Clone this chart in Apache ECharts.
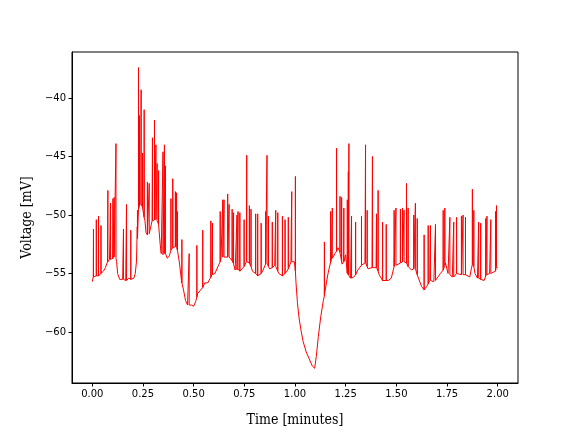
<!DOCTYPE html>
<html>
<head>
<meta charset="utf-8">
<script src="https://cdn.jsdelivr.net/npm/echarts@6/dist/echarts.min.js"></script>
<style>html,body{margin:0;padding:0;background:#fff}#c{width:576px;height:432px}</style>
</head>
<body>
<div id="c"></div>
<script>
// Baseline trace: [time (min), voltage (mV)]
var baseline = [
[0.000,-55.7],[0.005,-55.3],[0.015,-55.2],[0.030,-55.2],[0.045,-55.0],[0.055,-54.8],[0.065,-54.5],
[0.075,-54.0],[0.085,-53.8],[0.095,-53.8],[0.105,-53.6],[0.112,-53.5],[0.120,-54.0],[0.125,-55.0],
[0.135,-55.5],[0.150,-55.5],[0.165,-55.6],[0.180,-55.4],[0.195,-55.6],[0.205,-55.4],[0.212,-55.0],
[0.218,-54.0],[0.222,-51.0],[0.228,-49.5],[0.240,-49.0],[0.250,-49.5],[0.260,-50.5],[0.265,-51.5],
[0.275,-51.7],[0.285,-51.5],[0.295,-50.5],[0.310,-50.4],[0.325,-50.6],[0.335,-52.5],[0.340,-53.3],
[0.350,-53.4],[0.360,-53.3],[0.370,-53.7],[0.380,-53.5],[0.390,-52.9],[0.405,-52.7],[0.418,-52.9],
[0.430,-54.1],[0.440,-55.6],[0.450,-56.4],[0.460,-57.3],[0.470,-57.7],[0.490,-57.7],[0.500,-57.8],
[0.510,-57.4],[0.520,-56.7],[0.535,-56.4],[0.555,-55.8],[0.570,-55.8],[0.590,-55.1],[0.605,-55.0],
[0.620,-54.4],[0.635,-53.7],[0.650,-53.6],[0.675,-53.6],[0.695,-54.1],[0.705,-54.7],[0.715,-54.7],
[0.720,-54.6],[0.735,-54.9],[0.760,-54.0],[0.775,-54.1],[0.790,-54.8],[0.810,-55.0],[0.820,-55.3],
[0.840,-54.8],[0.860,-54.1],[0.875,-54.6],[0.900,-54.3],[0.920,-55.0],[0.940,-55.2],[0.960,-54.8],
[0.980,-54.0],[0.997,-54.0],[1.000,-54.5],[1.005,-55.8],[1.012,-57.5],[1.020,-58.8],[1.030,-59.9],
[1.040,-60.8],[1.055,-61.7],[1.070,-62.3],[1.085,-62.9],[1.097,-63.1],[1.105,-62.1],[1.115,-60.4],
[1.127,-58.7],[1.140,-57.3],[1.147,-56.6],[1.163,-55.0],[1.180,-53.8],[1.197,-53.3],[1.213,-52.8],
[1.222,-53.2],[1.232,-54.2],[1.240,-54.0],[1.250,-53.4],[1.258,-55.0],[1.274,-55.4],[1.290,-55.3],
[1.310,-54.7],[1.330,-54.3],[1.345,-54.1],[1.360,-54.6],[1.380,-54.5],[1.400,-54.5],[1.415,-55.1],
[1.435,-55.6],[1.460,-55.6],[1.475,-55.4],[1.490,-54.3],[1.510,-54.2],[1.525,-54.0],[1.545,-54.1],
[1.560,-54.4],[1.575,-54.7],[1.595,-54.6],[1.607,-55.3],[1.624,-56.1],[1.637,-56.4],[1.650,-56.1],
[1.665,-55.6],[1.685,-55.7],[1.700,-55.5],[1.717,-55.0],[1.734,-54.6],[1.742,-54.1],[1.755,-55.0],
[1.776,-55.3],[1.800,-55.0],[1.830,-55.1],[1.850,-55.0],[1.862,-55.3],[1.870,-54.6],[1.878,-54.1],
[1.888,-55.0],[1.900,-55.4],[1.920,-55.5],[1.933,-55.6],[1.945,-55.1],[1.960,-55.0],[1.975,-54.9],
[1.990,-54.8],[1.995,-54.3],[2.000,-54.5]
];
// Spikes: [time (min), base voltage (mV), peak voltage (mV)]
var spikes = [
[0.006,-55.3,-51.2],[0.020,-55.2,-50.4],[0.031,-55.2,-50.1],[0.043,-55.0,-50.9],[0.077,-54.0,-47.9],
[0.090,-53.8,-49.0],[0.102,-53.7,-48.6],[0.108,-53.6,-48.5],[0.117,-53.7,-43.9],[0.154,-55.5,-51.2],
[0.169,-55.6,-49.1],[0.190,-55.5,-51.3],[0.223,-52.0,-49.6],[0.228,-49.5,-37.4],[0.233,-49.2,-41.5],
[0.241,-49.0,-39.3],[0.248,-49.4,-44.7],[0.256,-50.2,-41.0],[0.272,-51.7,-47.2],[0.281,-51.6,-47.3],
[0.297,-50.5,-43.4],[0.307,-50.4,-41.9],[0.314,-50.4,-44.0],[0.320,-50.5,-45.6],[0.327,-50.8,-46.2],
[0.349,-53.4,-44.6],[0.356,-53.3,-44.0],[0.361,-53.3,-45.8],[0.388,-53.0,-48.6],[0.397,-52.8,-46.9],
[0.410,-52.7,-48.0],[0.416,-52.8,-48.1],[0.420,-53.0,-49.7],[0.442,-55.8,-52.1],[0.478,-57.7,-53.3],
[0.516,-57.0,-52.6],[0.545,-56.2,-51.3],[0.585,-55.3,-50.5],[0.593,-55.1,-50.7],[0.631,-54.0,-49.7],
[0.644,-53.6,-48.7],[0.650,-53.6,-48.7],[0.668,-53.6,-48.2],[0.675,-53.6,-49.1],[0.690,-53.9,-49.5],
[0.697,-54.2,-49.8],[0.714,-54.7,-50.0],[0.719,-54.6,-49.7],[0.728,-54.8,-49.8],[0.749,-54.4,-50.4],
[0.762,-54.0,-44.9],[0.775,-54.1,-49.2],[0.783,-54.4,-49.5],[0.806,-55.0,-49.9],[0.816,-55.2,-49.9],
[0.833,-55.0,-50.7],[0.855,-54.2,-49.7],[0.862,-54.1,-44.9],[0.869,-54.4,-50.1],[0.888,-54.5,-50.6],
[0.905,-54.4,-49.6],[0.915,-54.8,-49.8],[0.938,-55.2,-50.1],[0.951,-55.0,-50.4],[0.967,-54.6,-50.2],
[0.984,-54.0,-48.0],[1.002,-54.8,-46.7],[1.145,-56.9,-52.3],[1.176,-54.0,-49.7],[1.184,-53.7,-49.4],
[1.205,-53.1,-44.3],[1.222,-53.2,-48.4],[1.230,-54.0,-48.5],[1.241,-54.0,-49.4],[1.258,-54.9,-48.7],
[1.263,-55.1,-46.3],[1.266,-55.2,-43.9],[1.279,-55.4,-50.1],[1.299,-55.1,-50.6],[1.328,-54.3,-50.1],
[1.348,-54.1,-44.0],[1.356,-54.4,-49.6],[1.382,-54.5,-45.0],[1.402,-54.5,-49.9],[1.410,-54.8,-47.9],
[1.432,-55.6,-50.6],[1.450,-55.6,-50.8],[1.489,-54.4,-49.6],[1.498,-54.3,-49.4],[1.520,-54.1,-49.5],
[1.530,-54.0,-49.4],[1.538,-54.0,-49.6],[1.550,-54.1,-47.3],[1.558,-54.4,-49.4],[1.586,-54.6,-50.0],
[1.594,-54.6,-49.0],[1.603,-55.1,-50.3],[1.637,-56.4,-51.7],[1.657,-55.9,-50.9],[1.668,-55.6,-50.9],
[1.693,-55.6,-50.8],[1.731,-54.7,-49.6],[1.739,-54.3,-49.4],[1.764,-55.1,-50.2],[1.783,-55.3,-50.6],
[1.797,-55.0,-50.2],[1.821,-55.1,-50.1],[1.829,-55.1,-50.0],[1.841,-55.1,-50.2],[1.875,-54.2,-47.8],
[1.882,-54.4,-49.6],[1.906,-55.4,-50.6],[1.916,-55.5,-50.7],[1.941,-55.2,-50.3],[1.947,-55.1,-50.1],
[1.966,-55.0,-50.4],[1.989,-54.8,-49.7],[1.994,-54.4,-49.2]
];
var xTicks = [0, 0.25, 0.5, 0.75, 1.0, 1.25, 1.5, 1.75, 2.0];
var yTicks = [-60, -55, -50, -45, -40];

// merge baseline and spikes into one time-ordered trace
var events = [];
baseline.forEach(function(p){ events.push({t:p[0], pts:[[p[0],p[1]]]}); });
spikes.forEach(function(s){ events.push({t:s[0], pts:[[s[0],s[1]],[s[0],s[2]],[s[0],s[1]]]}); });
events.sort(function(a,b){ return a.t - b.t; });
var trace = [];
events.forEach(function(e){ e.pts.forEach(function(p){ trace.push(p); }); });

var chart = echarts.init(document.getElementById('c'), null, {renderer:'canvas'});
var minus = function(v){ return String(v).replace('-', '\u2212'); };
var nameFont = {fontFamily:'"DejaVu Serif Condensed", "DejaVu Serif", serif', fontSize:14, color:'#000'};
chart.setOption({
  animation: false,
  backgroundColor: '#fff',
  grid: {left:72, right:58, top:52, bottom:49, show:true, borderColor:'#000', borderWidth:1, containLabel:false},
  xAxis: {
    type:'value', min:-0.1, max:2.1,
    name:'Time [minutes]', nameLocation:'middle', nameGap:30,
    nameTextStyle:nameFont,
    axisLine:{show:true, onZero:false, lineStyle:{color:'#000', width:1}},
    axisTick:{show:true, length:3.5, lineStyle:{color:'#000'}, customValues:xTicks},
    axisLabel:{margin:6, fontFamily:'DejaVu Sans', fontSize:10, color:'#000', customValues:xTicks,
      formatter:function(v){ return minus(v.toFixed(2)); }},
    splitLine:{show:false}
  },
  yAxis: {
    type:'value', min:-64.36, max:-36.07,
    name:'Voltage [mV]', nameLocation:'middle', nameGap:38, nameRotate:90,
    nameTextStyle:nameFont,
    axisLine:{show:true, onZero:false, lineStyle:{color:'#000', width:1}},
    axisTick:{show:true, length:3.5, lineStyle:{color:'#000'}, customValues:yTicks},
    axisLabel:{margin:6, fontFamily:'DejaVu Sans', fontSize:10, color:'#000', customValues:yTicks,
      formatter:function(v){ return minus(v); }},
    splitLine:{show:false}
  },
  series: [{
    type:'line', data:trace, showSymbol:false, symbol:'none',
    lineStyle:{color:'#ff0000', width:1}, z:3
  }]
});
</script>
</body>
</html>
